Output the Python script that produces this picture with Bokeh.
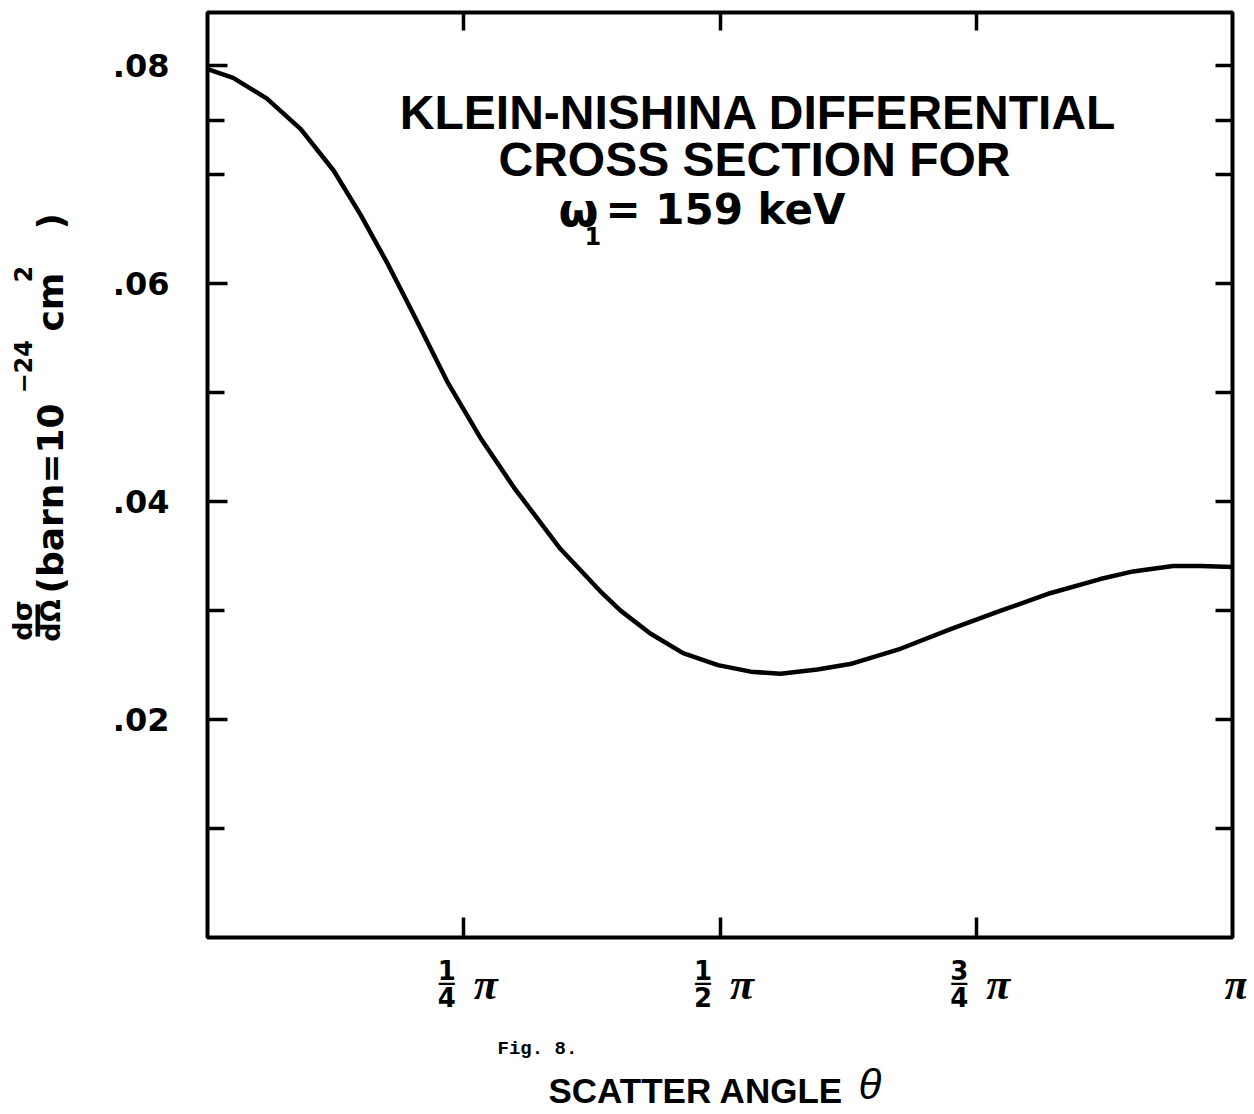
import math
from bokeh.plotting import figure
from bokeh.models import Range1d, LinearAxis, FixedTicker, Label
from bokeh.layouts import row, column
from bokeh.embed import file_html
from bokeh.resources import INLINE

# ---- data ----
theta_over_pi = [0.0, 0.025, 0.058, 0.091, 0.123, 0.149, 0.176, 0.201, 0.234, 0.266,
                 0.299, 0.344, 0.383, 0.403, 0.432, 0.464, 0.498, 0.530, 0.559, 0.595,
                 0.627, 0.676, 0.725, 0.774, 0.822, 0.871, 0.903, 0.942, 0.969, 1.0]
cross_section = [0.0797, 0.0789, 0.0770, 0.0742, 0.0704, 0.0664, 0.0618, 0.0572, 0.0510, 0.0459,
                 0.0413, 0.0357, 0.0318, 0.0300, 0.0279, 0.0261, 0.0250, 0.0244, 0.0242, 0.0246,
                 0.0251, 0.0265, 0.0283, 0.0300, 0.0316, 0.0329, 0.0336, 0.0341, 0.0341, 0.0340]

y_labeled_ticks = [0.02, 0.04, 0.06, 0.08]
y_tick_labels = [".02", ".04", ".06", ".08"]
y_unlabeled_ticks = [0.01, 0.03, 0.05, 0.07, 0.075]

x_tick_values = [0.25, 0.5, 0.75, 1.0]
x_tick_num = ["1", "1", "3", ""]
x_tick_den = ["4", "2", "4", ""]

title_lines = ["KLEIN-NISHINA DIFFERENTIAL", "CROSS SECTION FOR"]
energy_symbol = "\u03c9"
energy_sub = "1"
energy_text = "= 159 keV"
x_label = "SCATTER ANGLE"
x_symbol = "\u03b8"
fig_caption = "Fig. 8."

X_MAX = 1.0
Y_MAX = 0.0849

# ---- layout constants (pixels) ----
CANVAS_W, CANVAS_H = 1250, 1112
LEFT_W = 100                     # panel holding the rotated y title
FRAME_L, FRAME_T = 207, 12
FRAME_W, FRAME_H = 1025, 925
FRAME_B = FRAME_T + FRAME_H
BORDER_L = FRAME_L - LEFT_W
BORDER_R = 4
P_BOTTOM = 8
P_H = FRAME_T + FRAME_H + P_BOTTOM
Q_H = CANVAS_H - P_H
Q_FRAME_W = CANVAS_W - FRAME_L - BORDER_R

def xdata(cx):
    return (cx - FRAME_L) / FRAME_W * X_MAX

def ydata(cy):
    return (FRAME_B - cy) / FRAME_H * Y_MAX

# ---- main plot ----
p = figure(frame_width=FRAME_W, frame_height=FRAME_H,
           x_range=Range1d(0, X_MAX), y_range=Range1d(0, Y_MAX),
           output_backend="svg", toolbar_location=None,
           min_border_left=BORDER_L, min_border_right=BORDER_R,
           min_border_top=FRAME_T, min_border_bottom=P_BOTTOM)
p.background_fill_color = "white"
p.border_fill_color = "white"
p.outline_line_color = "black"
p.outline_line_width = 4
p.xgrid.visible = False
p.ygrid.visible = False

def style_axis(ax, tick_in):
    ax.axis_line_color = None
    ax.major_tick_in = tick_in
    ax.major_tick_out = 0
    ax.major_tick_line_width = 3.5
    ax.major_tick_line_color = "black"
    ax.minor_tick_in = tick_in
    ax.minor_tick_out = 0
    ax.minor_tick_line_width = 3.5
    ax.minor_tick_line_color = "black"

yl = p.yaxis[0]
yl.ticker = FixedTicker(ticks=y_labeled_ticks, minor_ticks=y_unlabeled_ticks)
style_axis(yl, 20)
yl.minor_tick_in = 17
yl.major_label_overrides = dict(zip(y_labeled_ticks, y_tick_labels))
yl.major_label_text_font = "DejaVu Sans"
yl.major_label_text_font_style = "bold"
yl.major_label_text_font_size = "32px"
yl.major_label_text_color = "black"
yl.major_label_standoff = 38

yr = LinearAxis(ticker=FixedTicker(ticks=[], minor_ticks=y_labeled_ticks + y_unlabeled_ticks))
style_axis(yr, 17)
p.add_layout(yr, "right")

xb = p.xaxis[0]
xb.ticker = FixedTicker(ticks=[], minor_ticks=x_tick_values[:3])
style_axis(xb, 20)

xt = LinearAxis(ticker=FixedTicker(ticks=[], minor_ticks=x_tick_values[:3]))
style_axis(xt, 18)
p.add_layout(xt, "above")

p.line(theta_over_pi, cross_section, line_width=4.5, line_color="black",
       line_join="round", line_cap="round")

def lbl(fig, x, y, text, xo=0, yo=0, size=20, font="DejaVu Sans", style="bold",
        align="left", baseline="middle", angle=0.0):
    fig.add_layout(Label(x=x, y=y, text=text, x_offset=xo, y_offset=yo,
                         text_font=font, text_font_style=style, text_font_size=f"{size}px",
                         text_align=align, text_baseline=baseline, angle=angle,
                         text_color="black"))

# title block inside the frame
lbl(p, xdata(758), ydata(112), title_lines[0], size=48, font="Liberation Sans", align="center")
lbl(p, xdata(754), ydata(159), title_lines[1], size=48, font="Liberation Sans", align="center")
lbl(p, xdata(558), ydata(209), energy_symbol, size=46)
lbl(p, xdata(584), ydata(235), energy_sub, size=24)
lbl(p, xdata(605), ydata(209), energy_text, size=42)

# ---- panel below the frame: x tick labels and x title ----
q = figure(frame_width=Q_FRAME_W, frame_height=Q_H,
           x_range=Range1d(0, xdata(FRAME_L + Q_FRAME_W)),
           y_range=Range1d(-(CANVAS_H - FRAME_B), -(P_H - FRAME_B)),
           x_axis_type=None, y_axis_type=None,
           output_backend="svg", toolbar_location=None,
           min_border_left=BORDER_L, min_border_right=BORDER_R,
           min_border_top=0, min_border_bottom=0)
q.outline_line_color = None
q.background_fill_color = "white"
q.border_fill_color = "white"

def qy(cy):
    return -(cy - FRAME_B)

for t, num, den in zip(x_tick_values, x_tick_num, x_tick_den):
    if num:
        lbl(q, t, qy(969), num, xo=-17, size=26, align="center")
        lbl(q, t, qy(982), "\u2014", xo=-17, size=18, align="center")
        lbl(q, t, qy(996), den, xo=-17, size=26, align="center")
        lbl(q, t, qy(984), "\u03c0", xo=22, size=44, font="Liberation Serif",
            style="bold italic", align="center")
    else:
        lbl(q, t, qy(984), "\u03c0", xo=4, size=44, font="Liberation Serif",
            style="bold italic", align="center")

lbl(q, xdata(497), qy(1048), fig_caption, size=19, font="Liberation Mono")
lbl(q, xdata(548), qy(1090), x_label, size=35, font="Liberation Sans")
lbl(q, xdata(858), qy(1084), x_symbol, size=42, font="Liberation Sans", style="italic")

# ---- panel left of the frame: rotated y title ----
r = figure(frame_width=LEFT_W, frame_height=CANVAS_H,
           x_range=Range1d(0, LEFT_W), y_range=Range1d(CANVAS_H, 0),
           x_axis_type=None, y_axis_type=None,
           output_backend="svg", toolbar_location=None,
           min_border_left=0, min_border_right=0, min_border_top=0, min_border_bottom=0)
r.outline_line_color = None
r.background_fill_color = "white"
r.border_fill_color = "white"

A = math.pi / 2
lbl(r, 22, 620, "d\u03c3", size=27, align="center", angle=A)
lbl(r, 35, 620, "\u2014", size=36, align="center", angle=A)
lbl(r, 50, 620, "d\u03a9", size=27, align="center", angle=A)
lbl(r, 50, 593, "(barn=10", size=36, angle=A)
lbl(r, 22, 393, "\u221224", size=24, angle=A)
lbl(r, 50, 331, "cm", size=36, angle=A)
lbl(r, 22, 282, "2", size=24, angle=A)
lbl(r, 50, 229, ")", size=36, angle=A)

layout = row(r, column(p, q, spacing=0), spacing=0)
open("out.html", "w").write(file_html(layout, INLINE))
